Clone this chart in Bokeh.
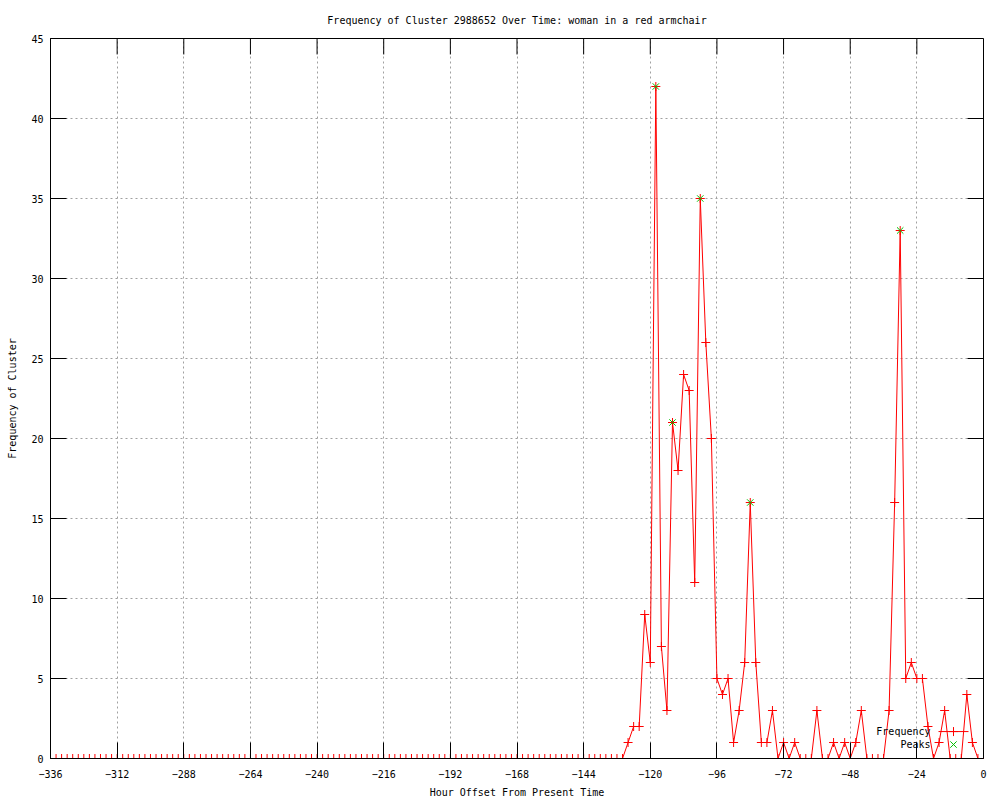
from bokeh.plotting import figure
from bokeh.models import Range1d, FixedTicker, Label
from bokeh.embed import file_html
from bokeh.resources import INLINE

# ---------------- data ----------------
hours = list(range(-336, 2, 2))
frequency = [
    0, 0, 0, 0, 0, 0, 0, 0, 0, 0, 0, 0, 0,            # -336 .. -312
    0, 0, 0, 0, 0, 0, 0, 0, 0, 0, 0, 0,               # -310 .. -288
    0, 0, 0, 0, 0, 0, 0, 0, 0, 0, 0, 0,               # -286 .. -264
    0, 0, 0, 0, 0, 0, 0, 0, 0, 0, 0, 0,               # -262 .. -240
    0, 0, 0, 0, 0, 0, 0, 0, 0, 0, 0, 0,               # -238 .. -216
    0, 0, 0, 0, 0, 0, 0, 0, 0, 0, 0, 0,               # -214 .. -192
    0, 0, 0, 0, 0, 0, 0, 0, 0, 0, 0, 0,               # -190 .. -168
    0, 0, 0, 0, 0, 0, 0, 0, 0, 0, 0, 0,               # -166 .. -144
    0, 0, 0, 0, 0, 0, 0,                              # -142 .. -130
    1, 2, 2, 9, 6, 42, 7, 3, 21, 18, 24, 23,          # -128 .. -106
    11, 35, 26, 20, 5, 4, 5, 1, 3, 6, 16, 6,          # -104 .. -82
    1, 1, 3, 0, 1, 0, 1, 0, 0, 0, 3, 0,               # -80 .. -58
    0, 1, 0, 1, 0, 1, 3, 0, 0, 0, 0, 3,               # -56 .. -34
    16, 33, 5, 6, 5, 5, 2, 0, 1, 3, 0, 0,             # -32 .. -10
    0, 4, 1, 0, 0,                                    # -8 .. 0
]
peak_hours = [-118, -112, -102, -84, -30]
peak_values = [42, 21, 35, 16, 33]

x_ticks = [-336, -312, -288, -264, -240, -216, -192, -168, -144, -120, -96, -72, -48, -24, 0]
y_ticks = [0, 5, 10, 15, 20, 25, 30, 35, 40, 45]

title_text = "Frequency of Cluster 2988652 Over Time: woman in a red armchair"
x_label = "Hour Offset From Present Time"
y_label = "Frequency of Cluster"

FONT = "DejaVu Sans Mono"
FS = "10px"
RED = "#ff0000"
GREEN = "#00c000"

# ---------------- figure ----------------
X0, X1, Y0, Y1 = -336, 0, 0, 45
W, H = 1000, 800
LEFT, RIGHT, TOP, BOTTOM = 50, 17, 38, 40
FW, FH = W - LEFT - RIGHT, H - TOP - BOTTOM
p = figure(width=W, height=H, output_backend="svg", toolbar_location=None,
           x_range=Range1d(X0, X1), y_range=Range1d(Y0, Y1),
           min_border_left=LEFT, min_border_right=RIGHT,
           min_border_top=TOP, min_border_bottom=BOTTOM,
           title=title_text)
p.background_fill_color = "white"
p.border_fill_color = "white"
p.outline_line_color = "black"
p.outline_line_width = 1
p.outline_line_alpha = 1

p.title.align = "center"
p.title.text_font = FONT
p.title.text_font_size = FS
p.title.text_font_style = "normal"
p.title.text_color = "black"
p.title.standoff = 25

TICK = 16

def style_axis(ax, ticks):
    ax.ticker = FixedTicker(ticks=ticks)
    ax.major_tick_in = TICK
    ax.major_tick_out = 0
    ax.minor_tick_in = 0
    ax.minor_tick_out = 0
    ax.axis_line_color = "black"
    ax.major_tick_line_color = "black"
    ax.major_label_text_font = FONT
    ax.major_label_text_font_size = FS
    ax.major_label_text_color = "black"
    ax.axis_label_text_font = FONT
    ax.axis_label_text_font_size = FS
    ax.axis_label_text_font_style = "normal"
    ax.axis_label_text_color = "black"

style_axis(p.xaxis[0], x_ticks)
p.xaxis[0].major_label_standoff = 11
p.xaxis[0].axis_label = x_label
p.xaxis[0].axis_label_standoff = 6

style_axis(p.yaxis[0], y_ticks)
p.yaxis[0].major_label_standoff = 7
p.yaxis[0].axis_label = y_label
p.yaxis[0].axis_label_standoff = 10

for g, t in ((p.xgrid[0], x_ticks), (p.ygrid[0], y_ticks)):
    g.ticker = FixedTicker(ticks=t)
    g.grid_line_color = "#a0a0a0"
    g.grid_line_dash = "2 3"
    g.grid_line_width = 1

# mirrored inward ticks on the top and right borders (gnuplot style)
dy_tick = TICK * (Y1 - Y0) / FH
dx_tick = TICK * (X1 - X0) / FW
tick_xs = [[t, t] for t in x_ticks] + [[X1, X1 - dx_tick] for t in y_ticks]
tick_ys = [[Y1, Y1 - dy_tick] for t in x_ticks] + [[t, t] for t in y_ticks]
p.multi_line(xs=tick_xs, ys=tick_ys, line_color="black", line_width=1)

# ---------------- data marks ----------------
p.line(hours, frequency, line_color=RED, line_width=1)
p.scatter(hours, frequency, marker="cross", size=9, line_color=RED, line_width=1)
p.scatter(peak_hours, peak_values, marker="x", size=9, line_color=GREEN, line_width=1)

# ---------------- legend (gnuplot style: text right, sample left) ----------------
def px_to_data(sx, sy):
    # pixel position on the page -> data coordinates of this frame
    fx0, fx1, fy0, fy1 = LEFT, W - RIGHT, H - BOTTOM, TOP
    return (X0 + (sx - fx0) / (fx1 - fx0) * (X1 - X0), Y0 + (fy0 - sy) / (fy0 - fy1) * (Y1 - Y0))

tx, ty1 = px_to_data(930, 733)
_, ty2 = px_to_data(930, 746)
lx0, ly = px_to_data(938, 733)
lx1, _ = px_to_data(968, 733)
lxm, ly2 = px_to_data(953, 746)
p.line([lx0, lx1], [ly, ly], line_color=RED, line_width=1)
p.scatter([lxm], [ly], marker="cross", size=9, line_color=RED, line_width=1)
p.scatter([lxm], [ly2], marker="x", size=9, line_color=GREEN, line_width=1)

for txt, ty in (("Frequency", ty1), ("Peaks", ty2)):
    p.add_layout(Label(x=tx, y=ty, text=txt, text_align="right", text_baseline="middle",
                       text_font=FONT, text_font_size=FS, text_color="black"))

open("out.html", "w").write(file_html(p, INLINE))
